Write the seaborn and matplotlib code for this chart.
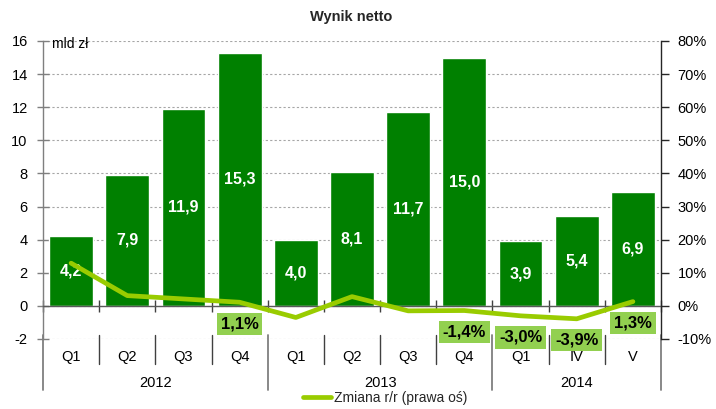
import numpy as np
import pandas as pd
import matplotlib
matplotlib.use("Agg")
import matplotlib.pyplot as plt
import matplotlib.transforms as mtransforms
from matplotlib.lines import Line2D
import seaborn as sns

# ---- data ----
categories = ["Q1", "Q2", "Q3", "Q4", "Q1", "Q2", "Q3", "Q4", "Q1", "IV", "V"]
years = ["2012", "2013", "2014"]
year_sizes = [4, 4, 3]
net_result = [4.2, 7.9, 11.9, 15.3, 4.0, 8.1, 11.7, 15.0, 3.9, 5.4, 6.9]
yoy_change = [12.9, 3.1, 2.1, 1.1, -3.5, 2.8, -1.5, -1.4, -3.0, -3.9, 1.3]
yoy_labels = [None, None, None, "1,1%", None, None, None, "-1,4%", "-3,0%", "-3,9%", "1,3%"]
left_ticks = [-2, 0, 2, 4, 6, 8, 10, 12, 14, 16]
right_ticks = [-10, 0, 10, 20, 30, 40, 50, 60, 70, 80]

BAR = "#008000"
LINE = "#99CC00"
BOX = "#92D050"
AXC = "#7F7F7F"

sns.set_theme(style="white")
plt.rcParams["font.family"] = ["Liberation Sans", "DejaVu Sans"]

fig = plt.figure(figsize=(7.16, 4.09), dpi=100)
ax = fig.add_axes([43 / 716, 1 - 339 / 409, (661 - 43) / 716, (339 - 41) / 409])

df = pd.DataFrame({"pos": [str(i) for i in range(len(categories))],
                   "val": net_result})
sns.barplot(data=df, x="pos", y="val", color=BAR, saturation=1, width=0.78,
            ax=ax, zorder=2)
ax.set_xlim(-0.5, len(categories) - 0.5)
ax.set_ylim(-2, 16)
ax.set_yticks(left_ticks)
ax.set_yticklabels([str(t) for t in left_ticks], fontsize=10.5, color="black")
ax.set_xlabel("")
ax.set_ylabel("")

# grid
for t in left_ticks:
    ax.axhline(t, color="#A6A6A6", lw=0.8, ls=(0, (2, 2)), zorder=0)

# spines
for s in ["top", "right"]:
    ax.spines[s].set_visible(False)
ax.spines["left"].set_color(AXC)
ax.spines["left"].set_linewidth(1.0)
ax.spines["bottom"].set_position(("data", 0))
ax.spines["bottom"].set_color("#595959")
ax.spines["bottom"].set_linewidth(1.0)
ax.spines["bottom"].set_zorder(3)
ax.set_xticks(np.arange(-0.5, len(categories), 1))
ax.set_xticklabels([""] * (len(categories) + 1))
ax.tick_params(axis="x", direction="inout", length=9, width=1, color="#404040", bottom=True)
ax.tick_params(axis="y", direction="inout", length=8, width=1, color=AXC, left=True, pad=7)

# bar value labels
for i, v in enumerate(net_result):
    ax.text(i, v / 2, f"{v:.1f}".replace(".", ","), ha="center", va="center",
            color="white", fontsize=11.5, fontweight="bold", zorder=4)

ax.text(0.015, 15.82, "mld zł", transform=mtransforms.blended_transform_factory(ax.transAxes, ax.transData),
        ha="left", va="center", fontsize=10, color="black")

# category labels & separators
trans = mtransforms.blended_transform_factory(ax.transData, ax.transAxes)
h = 298.0
for i, c in enumerate(categories):
    ax.text(i, -18 / h, c, transform=trans, ha="center", va="center", fontsize=10.5, color="black")
bounds = np.cumsum([0] + year_sizes) - 0.5
start = 0
for k, (y, n) in enumerate(zip(years, year_sizes)):
    ax.text(start + (n - 1) / 2, -44 / h, y, transform=trans, ha="center", va="center",
            fontsize=10.5, color="black")
    start += n
for b in range(len(categories) + 1):
    xb = b - 0.5
    if xb in bounds:
        ax.plot([xb, xb], [4 / h, -51 / h], transform=trans, color=AXC, lw=1.3,
                clip_on=False, zorder=1)
    else:
        ax.plot([xb, xb], [4 / h, -25 / h], transform=trans, color="#404040", lw=1.0,
                clip_on=False, zorder=1)

# line on right axis
ax2 = ax.twinx()
ldf = pd.DataFrame({"pos": np.arange(len(categories)), "chg": yoy_change})
sns.lineplot(data=ldf, x="pos", y="chg", color=LINE, lw=3.4, ax=ax2, zorder=3)
ax2.set_ylim(-10, 80)
ax2.set_xlim(-0.5, len(categories) - 0.5)
ax2.set_yticks(right_ticks)
ax2.set_yticklabels([f"{t}%" for t in right_ticks], fontsize=10.5, color="black")
ax2.set_ylabel("")
ax2.set_xlabel("")
for s in ["top", "left", "bottom"]:
    ax2.spines[s].set_visible(False)
ax2.spines["right"].set_color("#262626")
ax2.spines["right"].set_linewidth(1.0)
ax2.tick_params(axis="y", direction="out", length=6, width=1, color="#262626", right=True, pad=6)

for i, (v, lab) in enumerate(zip(yoy_change, yoy_labels)):
    if lab is None:
        continue
    ax2.text(i, v - 6.5, lab, ha="center", va="center", fontsize=12, fontweight="bold",
             color="black", zorder=5,
             bbox=dict(boxstyle="square,pad=0.22", facecolor=BOX, edgecolor="none"))

fig.text(0.491, 0.958, "Wynik netto", ha="center", va="center", fontsize=10.5, fontweight="bold")

handle = Line2D([], [], color=LINE, lw=3.4)
fig.legend([handle], ["Zmiana r/r (prawa oś)"], loc="center", bbox_to_anchor=(0.538, 0.027),
           frameon=False, fontsize=10, handlelength=2.0, handletextpad=0.2)

fig.savefig("out.png", dpi=100)
